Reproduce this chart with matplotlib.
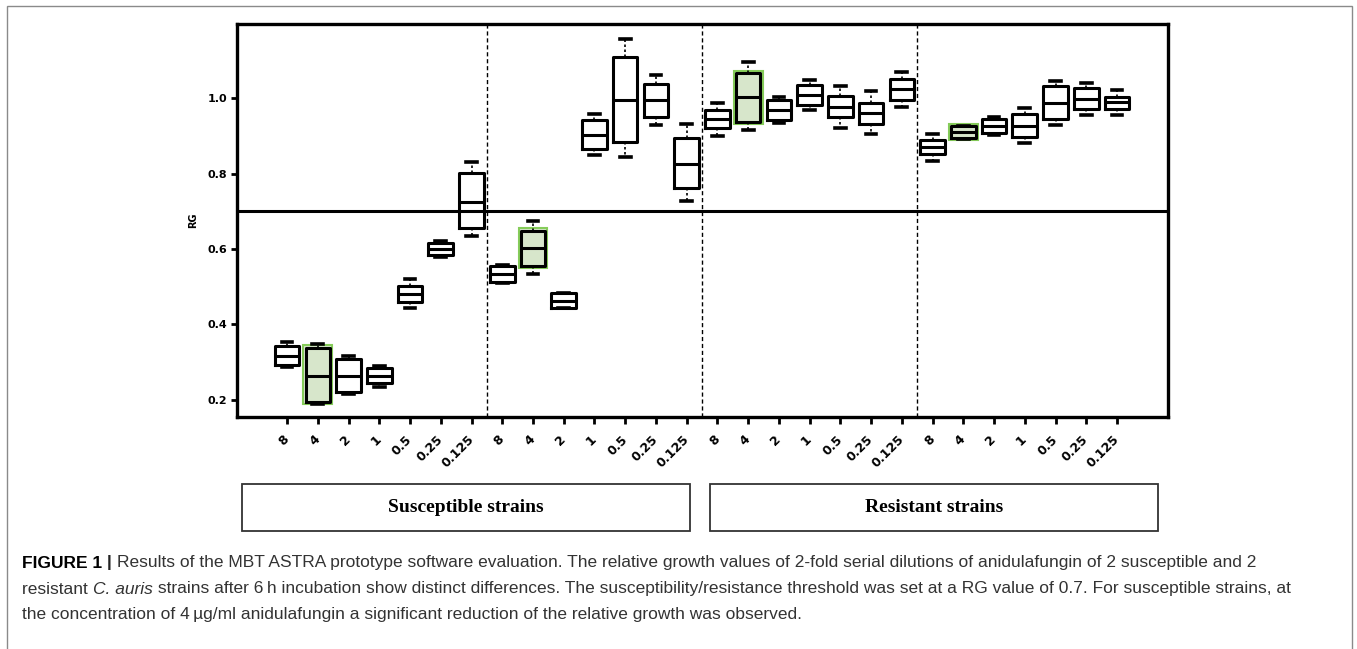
import matplotlib
matplotlib.use("Agg")
import matplotlib.pyplot as plt
from matplotlib.patches import Rectangle

# concentrations (ug/ml) for each of the 4 strains
conc_labels = ['8', '4', '2', '1', '0.5', '0.25', '0.125'] * 4
group_names = ['Susceptible strains', 'Resistant strains']
highlight = [1, 8, 15, 22]   # 4 ug/ml boxes
threshold = 0.7

# box statistics (RG values)
whislo = [0.287, 0.188, 0.214, 0.234, 0.442, 0.578, 0.634,
          0.510, 0.533, 0.442, 0.849, 0.845, 0.929, 0.728,
          0.900, 0.916, 0.935, 0.969, 0.922, 0.905, 0.976,
          0.834, 0.893, 0.903, 0.880, 0.929, 0.956, 0.956]
q1 = [0.292, 0.195, 0.221, 0.243, 0.458, 0.583, 0.655,
      0.512, 0.556, 0.444, 0.865, 0.885, 0.951, 0.763,
      0.920, 0.938, 0.942, 0.982, 0.950, 0.932, 0.995,
      0.852, 0.895, 0.909, 0.896, 0.944, 0.971, 0.971]
med = [0.316, 0.263, 0.263, 0.263, 0.480, 0.600, 0.725,
       0.533, 0.602, 0.462, 0.903, 0.995, 0.995, 0.826,
       0.944, 1.002, 0.969, 1.009, 0.978, 0.960, 1.024,
       0.871, 0.910, 0.926, 0.926, 0.988, 0.997, 0.991]
q3 = [0.342, 0.337, 0.307, 0.283, 0.502, 0.617, 0.802,
      0.555, 0.648, 0.482, 0.942, 1.109, 1.038, 0.894,
      0.969, 1.066, 0.995, 1.035, 1.006, 0.988, 1.050,
      0.889, 0.925, 0.944, 0.958, 1.033, 1.027, 1.004]
whishi = [0.354, 0.348, 0.316, 0.290, 0.519, 0.622, 0.830,
          0.557, 0.674, 0.484, 0.958, 1.157, 1.062, 0.932,
          0.987, 1.097, 1.003, 1.049, 1.033, 1.018, 1.069,
          0.905, 0.927, 0.950, 0.973, 1.047, 1.040, 1.022]

W, H = 1357, 649
fig = plt.figure(figsize=(W / 100, H / 100), dpi=100)

# grey frame round the whole figure (runs off the bottom edge)
fig.patches.append(Rectangle((7 / W, -0.02), 1345 / W, 1.02 - 6 / H,
                             transform=fig.transFigure, fill=False,
                             edgecolor='#8a8a8a', lw=1))

ax = fig.add_axes([237 / W, 1 - 417 / H, 931 / W, 393 / H])

stats = []
for i in range(len(med)):
    stats.append(dict(whislo=whislo[i], q1=q1[i], med=med[i], q3=q3[i],
                      whishi=whishi[i], fliers=[]))
pos = list(range(1, len(med) + 1))

# green highlight behind the 4 ug/ml boxes
for i in highlight:
    ax.add_patch(Rectangle((pos[i] - 0.47, q1[i] - 0.007), 0.94,
                           q3[i] - q1[i] + 0.014, facecolor='#d7e6cb',
                           edgecolor='#86cc5a', lw=1.5, zorder=1))

ax.bxp(stats, positions=pos, widths=0.8, capwidths=0.35, showfliers=False,
       patch_artist=False,
       boxprops=dict(color='black', lw=2.2),
       medianprops=dict(color='black', lw=2.2),
       whiskerprops=dict(color='black', lw=1.2, linestyle=(0, (1.5, 1.5))),
       capprops=dict(color='black', lw=2.6))

ax.axhline(threshold, color='black', lw=2.2, zorder=3)
for x in [7.5, 14.5, 21.5]:
    ax.axvline(x, color='black', lw=1, linestyle=(0, (3, 2)), zorder=3)

ax.set_xlim(-0.63, 29.66)
ax.set_ylim(0.154, 1.197)
ax.set_yticks([0.2, 0.4, 0.6, 0.8, 1.0])
ax.set_yticklabels(['0.2', '0.4', '0.6', '0.8', '1.0'], fontsize=8,
                   fontweight='bold')
ax.set_xticks(pos)
ax.set_xticklabels(conc_labels, rotation=45, ha='right', va='center',
                   rotation_mode='anchor', fontsize=9, fontweight='bold')
ax.tick_params(axis='x', length=5, width=2, pad=10)
ax.tick_params(axis='y', length=4, width=2, pad=3)
ax.set_ylabel('RG', fontsize=7, fontweight='bold', labelpad=7)
for s in ax.spines.values():
    s.set_linewidth(2.4)

# strain group boxes under the axis
for k, (x0, x1) in enumerate([(242, 690), (710, 1158)]):
    fig.patches.append(Rectangle((x0 / W, 1 - 531 / H), (x1 - x0) / W,
                                 47 / H, transform=fig.transFigure,
                                 fill=False, edgecolor='#333333', lw=1.3))
    fig.text((x0 + x1) / 2 / W, 1 - 508 / H, group_names[k],
             ha='center', va='center', fontsize=14, fontweight='bold',
             family='Liberation Serif')

# caption, written piece by piece
renderer = fig.canvas.get_renderer()
cap_lines = [
    [('FIGURE 1', 'bold', 'normal', 'black'), (' | ', 'bold', 'normal', '#222222'),
     ('Results of the MBT ASTRA prototype software evaluation. The relative growth values of '
      '2-fold serial dilutions of anidulafungin of 2 susceptible and 2', 'normal', 'normal', '#333333')],
    [('resistant ', 'normal', 'normal', '#333333'), ('C. auris', 'normal', 'italic', '#333333'),
     (' strains after 6\u2009h incubation show distinct differences. The susceptibility/resistance '
      'threshold was set at a RG value of 0.7. For susceptible strains, at', 'normal', 'normal', '#333333')],
    [('the concentration of 4\u2009\u00b5g/ml anidulafungin a significant reduction of the '
      'relative growth was observed.', 'normal', 'normal', '#333333')],
]
cap_y = [563, 589, 614]
for line, y in zip(cap_lines, cap_y):
    x = 22 / W
    for txt, wt, st, col in line:
        t = fig.text(x, 1 - y / H, txt, ha='left', va='center', fontsize=12.5,
                     fontweight=wt, fontstyle=st, color=col,
                     family=['Liberation Sans', 'DejaVu Sans'])
        x += t.get_window_extent(renderer).width / W

fig.savefig('out.png', dpi=100)
